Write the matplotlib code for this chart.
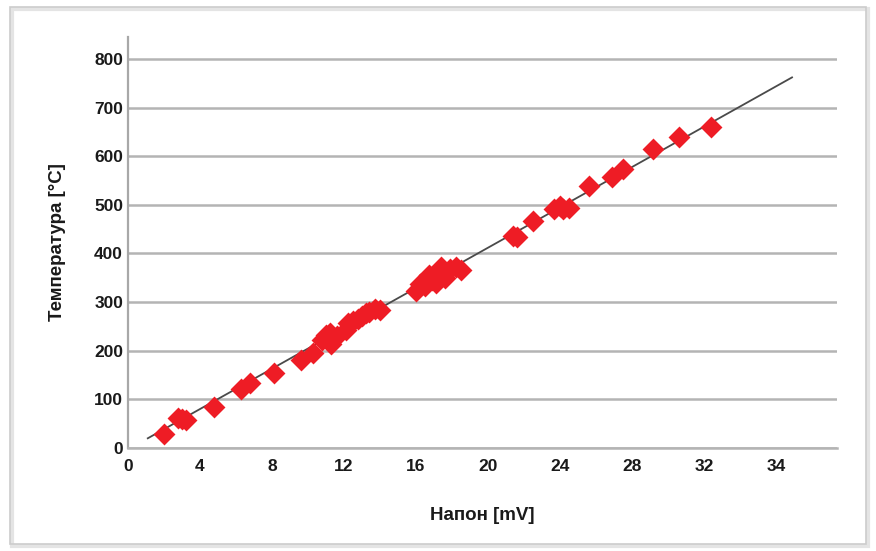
import matplotlib
matplotlib.use("Agg")
import matplotlib.pyplot as plt
from matplotlib.patches import Rectangle

plt.rcParams['font.family'] = ['Liberation Sans', 'DejaVu Sans']

# measured points (voltage position on axis, temperature)
napon = [2.0, 2.8, 3.0, 3.2, 4.8, 6.3, 6.8, 8.1, 9.6, 10.3,
         10.8, 11.0, 11.2, 11.4, 11.6, 11.3, 12.1, 12.2, 12.5, 12.8,
         13.0, 13.2, 13.4, 13.7, 14.0, 16.0, 16.2, 16.5, 16.7, 16.9,
         17.1, 17.4, 17.6, 17.9, 18.2, 18.5, 21.4, 21.6, 22.5, 23.7,
         24.0, 24.2, 24.5, 25.6, 26.9, 27.5, 29.2, 30.6, 32.4]
temperatura = [29, 62, 60, 58, 84, 121, 133, 154, 181, 195,
               222, 232, 237, 225, 230, 214, 243, 258, 262, 265,
               272, 278, 280, 285, 283, 322, 338, 333, 355, 345,
               340, 372, 350, 368, 372, 366, 436, 433, 467, 492,
               497, 492, 494, 539, 558, 574, 614, 640, 660]

# trend line end points
fit_x = [1.1, 36.9]
fit_y = [20, 762]

x_ticks = [0, 4, 8, 12, 16, 20, 24, 28, 32, 36]
x_labels = ["0", "4", "8", "12", "16", "20", "24", "28", "32", "34"]
y_ticks = [0, 100, 200, 300, 400, 500, 600, 700, 800]

fig = plt.figure(figsize=(8.76, 5.51), dpi=100)
ax = fig.add_axes([0.1461, 0.1869, 0.8094, 0.7459])

ax.plot(fit_x, fit_y, color='#4a4a4a', lw=1.3, zorder=2)
ax.plot(napon, temperatura, 'D', color='#ee1c25', markersize=9,
        markeredgewidth=2, markeredgecolor='#ee1c25', zorder=3)
for ln in ax.lines[1:]:
    ln.set_solid_joinstyle('round')
    ln.set_markeredgewidth(2)

ax.set_xlim(0, 39.4)
ax.set_ylim(0, 845)
ax.set_xticks(x_ticks)
ax.set_xticklabels(x_labels)
ax.set_yticks(y_ticks)
ax.grid(axis='y', color='#b4b4b4', lw=1.8)
ax.set_axisbelow(True)
ax.tick_params(length=0, labelsize=12.5, colors='#1a1a1a')
ax.tick_params(axis='y', pad=3.5)
ax.tick_params(axis='x', pad=8)
for lab in ax.get_xticklabels() + ax.get_yticklabels():
    lab.set_fontweight('bold')

for s in ['top', 'right']:
    ax.spines[s].set_visible(False)
ax.spines['left'].set_color('#a8a8a8')
ax.spines['left'].set_linewidth(1.6)
ax.spines['bottom'].set_color('#b4b4b4')
ax.spines['bottom'].set_linewidth(1.8)

ax.set_xlabel("Напон [mV]", fontsize=13.5, fontweight='bold', color='#1a1a1a', labelpad=24)
ax.set_ylabel("Температура [°C]", fontsize=13.5, fontweight='bold', color='#1a1a1a', labelpad=20)

# outer frame with a light shadow
fig.patches.append(Rectangle((12 / 876, 5 / 551), 856 / 876, 537 / 551,
                             transform=fig.transFigure, fill=False,
                             edgecolor='#e4e4e4', lw=3, zorder=0))
fig.patches.append(Rectangle((10 / 876, 7 / 551), 856 / 876, 537 / 551,
                             transform=fig.transFigure, fill=False,
                             edgecolor='#cccccc', lw=1.2, zorder=1))

fig.savefig("out.png", dpi=100)
